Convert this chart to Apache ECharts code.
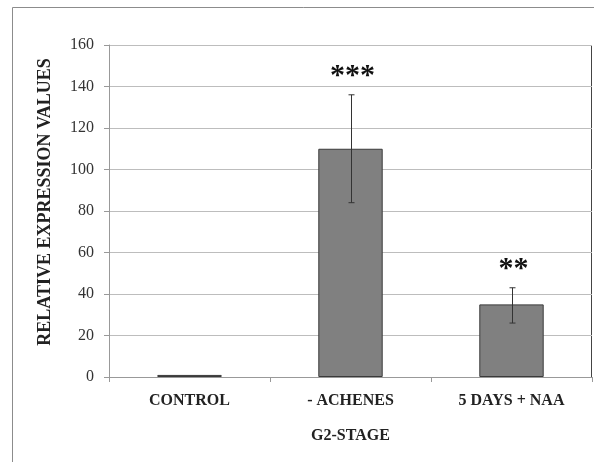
<!DOCTYPE html>
<html><head><meta charset="utf-8">
<script src="https://cdn.jsdelivr.net/npm/echarts@6/dist/echarts.min.js"></script>
<style>html,body{margin:0;padding:0;background:#fff}#c{width:594px;height:462px}</style>
</head><body><div id="c"></div>
<script>
const categories = ['CONTROL', '- ACHENES', '5 DAYS + NAA'];
const values = [1, 110, 35];
const errLow = [null, 84, 26];
const errHigh = [null, 136, 43];
const stars = ['', '***', '**'];
const yTicks = [0, 20, 40, 60, 80, 100, 120, 140, 160];

const serif = '"Liberation Serif", "DejaVu Serif", serif';
const chart = echarts.init(document.getElementById('c'));
chart.setOption({
  animation: false,
  backgroundColor: '#fff',
  graphic: [{
    type: 'rect', shape: {x: 12.5, y: 7.5, width: 700, height: 600},
    style: {fill: 'none', stroke: '#8c8c8c', lineWidth: 1}, z: -10
  }, {
    type: 'line', shape: {x1: 109, y1: 45.5, x2: 592, y2: 45.5},
    style: {stroke: '#222', lineWidth: 1}
  }, {
    type: 'line', shape: {x1: 591.5, y1: 45, x2: 591.5, y2: 377},
    style: {stroke: '#444', lineWidth: 1}
  }, {
    type: 'text', x: 45, y: 202, rotation: Math.PI / 2,
    style: {text: 'RELATIVE EXPRESSION VALUES', textAlign: 'center', textVerticalAlign: 'middle',
      fontFamily: serif, fontWeight: 'bold', fontSize: 18, fill: '#222'}
  }],
  grid: {left: 109, right: 2, top: 45, bottom: 85},
  xAxis: {
    type: 'category', data: categories,
    name: 'G2-STAGE', nameLocation: 'middle', nameGap: 51,
    nameTextStyle: {fontFamily: serif, fontWeight: 'bold', fontSize: 16, color: '#222'},
    axisLine: {lineStyle: {color: '#999'}},
    axisTick: {show: true, length: 5, lineStyle: {color: '#999'}},
    axisLabel: {fontFamily: serif, fontWeight: 'bold', fontSize: 16, color: '#222', margin: 16}
  },
  yAxis: {
    type: 'value', min: 0, max: yTicks[yTicks.length - 1], interval: 20,
    axisLine: {show: true, lineStyle: {color: '#999'}},
    axisTick: {show: true, length: 5, lineStyle: {color: '#999'}},
    axisLabel: {fontFamily: serif, fontSize: 16, color: '#333', margin: 15},
    splitLine: {lineStyle: {color: '#bdbdbd'}}
  },
  series: [{
    type: 'bar', data: values, barWidth: '40%',
    itemStyle: {color: '#808080', borderColor: '#3a3a3a', borderWidth: 1}
  }, {
    type: 'custom',
    data: categories.map((c, i) => [i, errLow[i], errHigh[i]]),
    renderItem: function (params, api) {
      const i = api.value(0);
      if (errHigh[i] == null) return null;
      const lo = api.coord([i, api.value(1)]);
      const hi = api.coord([i, api.value(2)]);
      const x = Math.round(lo[0]) + 0.5;
      const hw = 3;
      return {
        type: 'group', children: [
          {type: 'line', shape: {x1: x, y1: lo[1], x2: x, y2: hi[1]}, style: {stroke: '#333', lineWidth: 1}},
          {type: 'line', shape: {x1: x - hw, y1: lo[1], x2: x + hw, y2: lo[1]}, style: {stroke: '#333', lineWidth: 1}},
          {type: 'line', shape: {x1: x - hw, y1: hi[1], x2: x + hw, y2: hi[1]}, style: {stroke: '#333', lineWidth: 1}},
          {type: 'text', style: {text: stars[i], x: x + 1, y: hi[1] - 19, textAlign: 'center', textVerticalAlign: 'middle',
            fontFamily: serif, fontWeight: 'bold', fontSize: 30, fill: '#111'}}
        ]
      };
    },
    z: 5
  }]
});
</script></body></html>
